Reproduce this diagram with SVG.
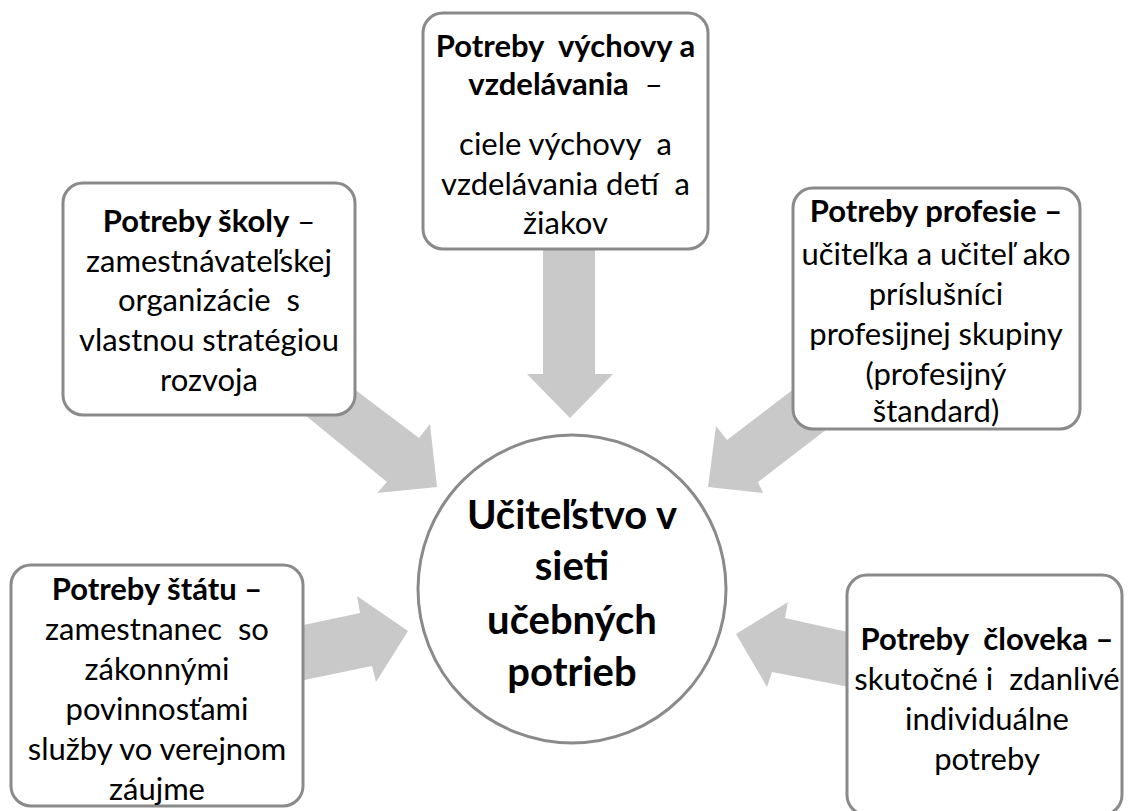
<svg xmlns="http://www.w3.org/2000/svg" width="1129" height="811" viewBox="0 0 1129 811">
  <style>
    .box { fill: #ffffff; stroke: #8a8a8a; stroke-width: 3; }
    .arrow { fill: #c9c9c9; stroke: none; }
    text { font-family: Lato, "Liberation Sans", sans-serif; font-size: 31px; fill: #000000; text-anchor: middle; white-space: pre; }
    .b { font-weight: bold; }
    .hub { font-size: 40px; font-weight: bold; }
  </style>

  <!-- block arrows pointing at the hub -->
  <g id="connectors">
    <polygon class="arrow" points="543,240 595,240 595,374 613,374 570,418 527,374 543,374"/>
    <polygon class="arrow" points="329,370 419,438 430,424 437,487 377,493 387,482 294,406"/>
    <polygon class="arrow" points="816,372 727,440 716,426 708,487 763,493 758,482 840,419"/>
    <polygon class="arrow" points="280,630 360,613 357,596 408,631 376,682 372,666 280,685"/>
    <polygon class="arrow" points="736,634 788,602 785,618 870,637 870,691 772,672 767,687"/>
  </g>

  <g id="node-vychova">
    <rect class="box" x="423" y="13" width="285" height="236" rx="20"/>
    <text x="565.5" y="57" xml:space="preserve"><tspan class="b">Potreby  výchovy a</tspan></text>
    <text x="565.5" y="95" xml:space="preserve"><tspan class="b">vzdelávania</tspan>  –</text>
    <text x="565.5" y="155" xml:space="preserve">ciele výchovy  a</text>
    <text x="565.5" y="195" xml:space="preserve">vzdelávania detí  a</text>
    <text x="565.5" y="234">žiakov</text>
  </g>

  <g id="node-skola">
    <rect class="box" x="63" y="183" width="292" height="232" rx="20"/>
    <text x="209" y="232" xml:space="preserve"><tspan class="b">Potreby školy</tspan> –</text>
    <text x="209" y="272">zamestnávateľskej</text>
    <text x="209" y="311" xml:space="preserve">organizácie  s</text>
    <text x="209" y="351">vlastnou stratégiou</text>
    <text x="209" y="391">rozvoja</text>
  </g>

  <g id="node-profesia">
    <rect class="box" x="793" y="188" width="287" height="241" rx="20"/>
    <text x="936" y="222" class="b">Potreby profesie –</text>
    <text x="936" y="265">učiteľka a učiteľ ako</text>
    <text x="936" y="305">príslušníci</text>
    <text x="936" y="345">profesijnej skupiny</text>
    <text x="936" y="385">(profesijný</text>
    <text x="936" y="422">štandard)</text>
  </g>

  <g id="node-stat">
    <rect class="box" x="11" y="565" width="292" height="241" rx="20"/>
    <text x="157" y="600" class="b">Potreby štátu –</text>
    <text x="157" y="640" xml:space="preserve">zamestnanec  so</text>
    <text x="157" y="680">zákonnými</text>
    <text x="157" y="720">povinnosťami</text>
    <text x="157" y="760">služby vo verejnom</text>
    <text x="157" y="800">záujme</text>
  </g>

  <g id="node-clovek">
    <rect class="box" x="847" y="575" width="275" height="240" rx="20"/>
    <text x="987" y="650" class="b" xml:space="preserve">Potreby  človeka –</text>
    <text x="987" y="690" xml:space="preserve">skutočné i  zdanlivé</text>
    <text x="987" y="730">individuálne</text>
    <text x="987" y="770">potreby</text>
  </g>

  <g id="node-ucitelstvo">
    <circle class="box" cx="572" cy="589" r="154"/>
    <text x="572" y="529" class="hub">Učiteľstvo v</text>
    <text x="572" y="580" class="hub">sieti</text>
    <text x="572" y="634" class="hub">učebných</text>
    <text x="572" y="686" class="hub">potrieb</text>
  </g>
</svg>
